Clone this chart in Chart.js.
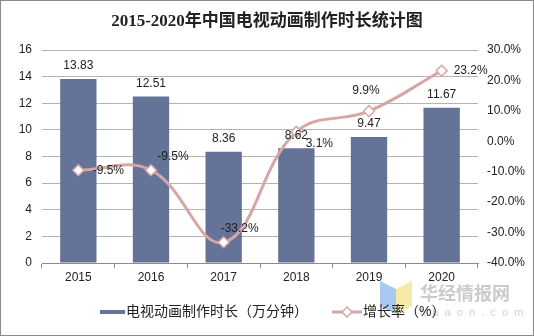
<!DOCTYPE html>
<html>
<head>
<meta charset="utf-8">
<script src="https://cdn.jsdelivr.net/npm/chart.js@4/dist/chart.umd.min.js"></script>
<style>
  html, body { margin: 0; padding: 0; background: #fff; }
  #wrap { width: 534px; height: 336px; border: 1px solid #8a8a8a; box-sizing: border-box; position: relative; }
</style>
</head>
<body>
<div id="wrap"><canvas id="chart"></canvas></div>
<script>
// data
var years = ["2015", "2016", "2017", "2018", "2019", "2020"];
var duration = [13.83, 12.51, 8.36, 8.62, 9.47, 11.67];   // 万分钟
var growth = [-9.5, -9.5, -33.2, 3.1, 9.9, 23.2];          // %

// label nudges for the growth series (dx, dy in px)
var growthLabelOffset = [[30, 0], [22, -14], [16, -14], [23, 12], [-3, -20], [29, 0]];

var barColor = '#667399';
var lineColor = '#d6a6a6';
var font = "'Liberation Sans', Arial, sans-serif";
var cjk = "'Liberation Sans', 'Noto Sans CJK SC', sans-serif";

var decor = {
    id: 'decor',
    afterDatasetsDraw: function (chart) {
        var c = chart.ctx;
        c.save();
        // bar values
        c.font = '12px ' + font;
        c.fillStyle = '#222';
        c.textAlign = 'center';
        c.textBaseline = 'middle';
        chart.getDatasetMeta(0).data.forEach(function (el, i) {
            c.fillText(duration[i].toFixed(2), el.x, el.y - 13);
        });
        // growth values
        chart.getDatasetMeta(1).data.forEach(function (el, i) {
            var o = growthLabelOffset[i];
            c.fillText(growth[i].toFixed(1) + '%', el.x + o[0], el.y + o[1]);
        });
        c.restore();
    },
    afterDraw: function (chart) {
        var c = chart.ctx;
        var w = chart.width;
        c.save();
        // title
        c.fillStyle = '#222';
        c.textAlign = 'center';
        c.textBaseline = 'middle';
        c.font = "bold 17px 'Liberation Serif', 'Noto Sans CJK SC', serif";
        c.fillText('2015-2020年中国电视动画制作时长统计图', w / 2, 21);

        // watermark
        c.fillStyle = '#a9c9f2';
        c.beginPath();
        c.moveTo(379, 280); c.lineTo(395, 288); c.lineTo(395, 313); c.lineTo(379, 305);
        c.closePath(); c.fill();
        c.fillStyle = '#f6e9a8';
        c.beginPath();
        c.moveTo(395, 288); c.lineTo(411, 280); c.lineTo(411, 305); c.lineTo(395, 313);
        c.closePath(); c.fill();
        c.textAlign = 'left';
        c.fillStyle = '#cbcbcb';
        c.font = "bold 18px 'Noto Sans CJK SC', sans-serif";
        c.fillText('华经情报网', 419, 292);
        c.font = "11px " + font;
        c.fillStyle = '#d2d2d2';
        c.fillText('h  u  a  o  n  .  c  o  m', 419, 312);

        // legend
        var ly = 311;
        c.fillStyle = barColor;
        c.fillRect(99, ly - 2, 25, 4);
        c.fillStyle = '#222';
        c.font = "14px " + cjk;
        c.fillText('电视动画制作时长（万分钟）', 125, ly);

        c.strokeStyle = lineColor;
        c.lineWidth = 3;
        c.beginPath();
        c.moveTo(331, ly);
        c.lineTo(361, ly);
        c.stroke();
        c.fillStyle = '#fff';
        c.lineWidth = 1.5;
        c.beginPath();
        c.moveTo(346, ly - 5);
        c.lineTo(351, ly);
        c.lineTo(346, ly + 5);
        c.lineTo(341, ly);
        c.closePath();
        c.fill();
        c.stroke();
        c.fillStyle = '#222';
        c.fillText('增长率（%）', 362, ly);
        c.restore();
    }
};

var ctx = document.getElementById('chart').getContext('2d');

var chart = new Chart(ctx, {
    type: 'bar',
    data: {
        labels: years,
        datasets: [
            {
                label: '电视动画制作时长（万分钟）',
                data: duration,
                backgroundColor: barColor,
                barPercentage: 0.5,
                categoryPercentage: 1,
                yAxisID: 'y',
                order: 2
            },
            {
                type: 'line',
                label: '增长率（%）',
                data: growth,
                borderColor: lineColor,
                borderWidth: 3,
                tension: 0.4,
                pointStyle: 'rectRot',
                pointRadius: 5.5,
                pointBackgroundColor: '#fff',
                pointBorderColor: lineColor,
                pointBorderWidth: 1.5,
                yAxisID: 'y1',
                order: 1
            }
        ]
    },
    options: {
        responsive: true,
        maintainAspectRatio: false,
        animation: false,
        layout: { padding: { top: 49, bottom: 50, left: 0, right: 0 } },
        plugins: {
            legend: { display: false },
            title: { display: false },
            tooltip: { enabled: false }
        },
        scales: {
            x: {
                offset: true,
                grid: { offset: true, drawOnChartArea: false, tickLength: 5, color: '#8c8c8c' },
                border: { color: '#8c8c8c' },
                ticks: { color: '#222', font: { family: font, size: 12 }, padding: 2 },
                afterFit: function (s) { s.height = 22; }
            },
            y: {
                position: 'left',
                min: 0,
                max: 16,
                ticks: { stepSize: 2, color: '#222', font: { family: font, size: 12 }, padding: 10 },
                grid: { color: '#b4b4b4', drawTicks: false },
                border: { display: false },
                afterFit: function (s) { s.width = 41; }
            },
            y1: {
                position: 'right',
                min: -40,
                max: 30,
                ticks: {
                    stepSize: 10,
                    color: '#222',
                    font: { family: font, size: 12 },
                    padding: 9,
                    callback: function (v) { return v.toFixed(1) + '%'; }
                },
                grid: { drawOnChartArea: false, drawTicks: false },
                border: { display: false },
                afterFit: function (s) { s.width = 55; }
            }
        }
    },
    plugins: [decor]
});
</script>
</body>
</html>
